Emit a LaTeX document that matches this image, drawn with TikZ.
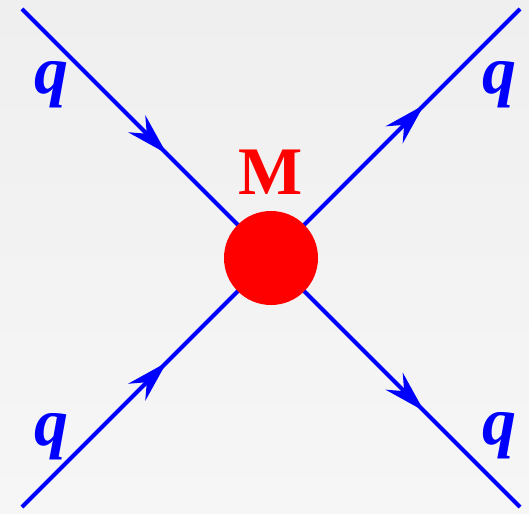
\documentclass[tikz,border=0pt]{standalone}
\usepackage{fontspec}
\setmainfont{Liberation Serif}
\usetikzlibrary{arrows.meta,decorations.markings,positioning}
\definecolor{bgtop}{RGB}{239,239,239}
\definecolor{bgbottom}{RGB}{246,246,246}
\tikzset{
  quark/.style={draw=blue, line width=2.1pt, postaction=decorate,
    decoration={markings, mark=at position #1 with
      {\arrow[blue]{Stealth[length=21pt, width=12pt, inset=7pt]}}}},
  qlabel/.style={text=blue, inner sep=0pt,
    font=\bfseries\itshape\fontsize{34}{34}\selectfont},
  mlabel/.style={text=red, inner sep=0pt,
    font=\bfseries\fontsize{34}{34}\selectfont},
  mblob/.style={circle, fill=red, draw=none, minimum size=47pt,
    inner sep=0pt, outer sep=0pt},
}

\begin{document}
\begin{tikzpicture}[x=0.5pt, y=-0.5pt]
  \shade [top color=bgtop, bottom color=bgbottom] (0,0) rectangle (529,513);

  \coordinate (a) at (22,9);
  \coordinate (b) at (520,9);
  \coordinate (c) at (22,507);
  \coordinate (d) at (520,507);
  \node [mblob] (m) at (271,258) {};

  \draw [quark=0.67] (a) -- (m);
  \draw [quark=0.555] (m) -- (d);
  \draw [quark=0.67] (c) -- (m);
  \draw [quark=0.555] (m) -- (b);

  \node [mlabel, above=8pt of m] (mtext) {M};
  \node [qlabel] (qa) at (51,85) {q};
  \node [qlabel] (qb) at (499,85) {q};
  \node [qlabel] (qc) at (51,437) {q};
  \node [qlabel] (qd) at (499,436) {q};
\end{tikzpicture}
\end{document}
